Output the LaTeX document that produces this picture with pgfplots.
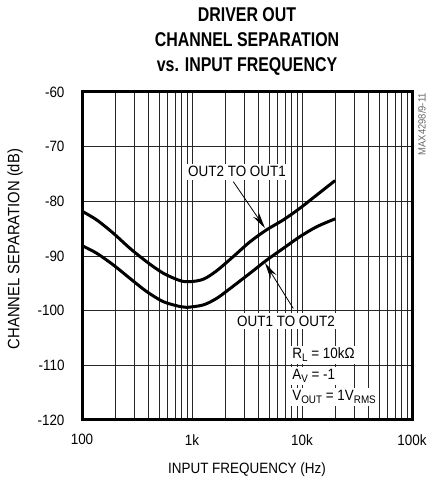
\documentclass[border=0pt]{standalone}
\usepackage{fontspec}
\setmainfont{Liberation Sans}[FakeStretch=0.9]
\newfontfamily\titlefont{Liberation Sans}[FakeStretch=0.8]
\usepackage{pgfplots}
\pgfplotsset{compat=1.18}
\usetikzlibrary{arrows.meta}

\newcommand\lbl{\fontsize{15}{18}\selectfont}
\newcommand\sub[1]{\raisebox{-0.4ex}{\fontsize{11}{11}\selectfont #1}}

\begin{document}
\begin{tikzpicture}
\begin{axis}[
  name=ax,
  scale only axis,
  width=330bp, height=328bp,
  xmode=log,
  xmin=100, xmax=100000,
  ymin=-120, ymax=-60,
  xtick={100,1000,10000,100000},
  xticklabels={100,1k,10k,100k},
  minor xtick={200,300,400,500,600,700,800,900,
               2000,3000,4000,5000,6000,7000,8000,9000,
               20000,30000,40000,50000,60000,70000,80000,90000},
  ytick={-120,-110,-100,-90,-80,-70,-60},
  yticklabels={-120,-110,-100,-90,-80,-70,-60},
  grid=both,
  major grid style={black!85, line width=0.75bp},
  minor grid style={black!85, line width=0.75bp},
  axis line style={line width=3bp},
  tick style={draw=none},
  tick label style={font=\lbl},
  yticklabel style={xshift=-14bp},
  xticklabel style={yshift=-11bp},
  label style={font=\lbl},
  xlabel={INPUT FREQUENCY (Hz)},
  ylabel={CHANNEL SEPARATION (dB)},
  xlabel style={at={(axis description cs:0.5,0)}, anchor=center, yshift=-50bp},
  ylabel style={at={(axis description cs:0,0.5)}, anchor=center,
                yshift=67bp, xshift=7bp, font=\fontsize{16.5}{19}\selectfont},
]
% OUT2 TO OUT1
\addplot[black, line width=3bp, smooth] coordinates {
  (100,-81.8) (136,-83.4) (193,-85.85) (273,-88.6) (387,-91.05)
  (548,-93.15) (778,-94.5) (959,-94.7) (1267,-94.25) (1677,-92.7)
  (2374,-90.1) (3368,-87.4) (4776,-85.2) (6761,-83.4) (9590,-81.25)
  (13600,-78.85) (20000,-76.2)
};
% OUT1 TO OUT2
\addplot[black, line width=3bp, smooth] coordinates {
  (100,-88.1) (136,-89.5) (193,-91.65) (273,-94.1) (387,-96.5)
  (548,-98.35) (778,-99.25) (895,-99.4) (1267,-98.95) (1677,-97.75)
  (2138,-96.2) (3368,-93.15) (4776,-90.75) (6761,-88.6) (9590,-86.45)
  (13600,-84.65) (20000,-83.2)
};

\node[fill=white, font=\lbl, inner xsep=2bp, inner ysep=3bp]
  at (axis cs:2565,-74.6) {OUT2 TO OUT1};
\node[fill=white, font=\lbl, inner xsep=2bp, inner ysep=3bp]
  at (axis cs:7160,-101.9) {OUT1 TO OUT2};

\draw[line width=0.8bp, -{Stealth[length=16bp, width=7bp]}]
  (axis cs:2374,-76.4) -- (axis cs:4608,-84.9);
\draw[line width=0.8bp, -{Stealth[length=16bp, width=7bp]}]
  (axis cs:8337,-99.6) -- (axis cs:4608,-91.3);

\node[fill=white, font=\lbl, anchor=west, inner sep=2bp]
  at (axis cs:7800,-108.1) {R\sub{L} = 10kΩ};
\node[fill=white, font=\lbl, anchor=west, inner sep=2bp]
  at (axis cs:7800,-111.95) {A\sub{V} = -1};
\node[fill=white, font=\lbl, anchor=west, inner sep=2bp]
  at (axis cs:7800,-115.8) {V\sub{OUT} = 1V\sub{RMS}};
\end{axis}

\node[font=\titlefont\fontsize{20}{25.5}\selectfont\bfseries, align=center,
      anchor=north, inner sep=0pt]
  at ([yshift=85bp]ax.north) {DRIVER OUT\\CHANNEL SEPARATION\\vs. INPUT FREQUENCY};
\node[font=\fontsize{10.5}{12}\selectfont, text=black!60, rotate=90,
      anchor=east, inner sep=0pt]
  at ([xshift=10bp, yshift=-1bp]ax.north east) {MAX4298/9-11};

\pgfresetboundingbox
\useasboundingbox ([shift={(-82bp,-62bp)}]ax.south west)
  rectangle ([shift={(16bp,92bp)}]ax.north east);
\end{tikzpicture}
\end{document}
